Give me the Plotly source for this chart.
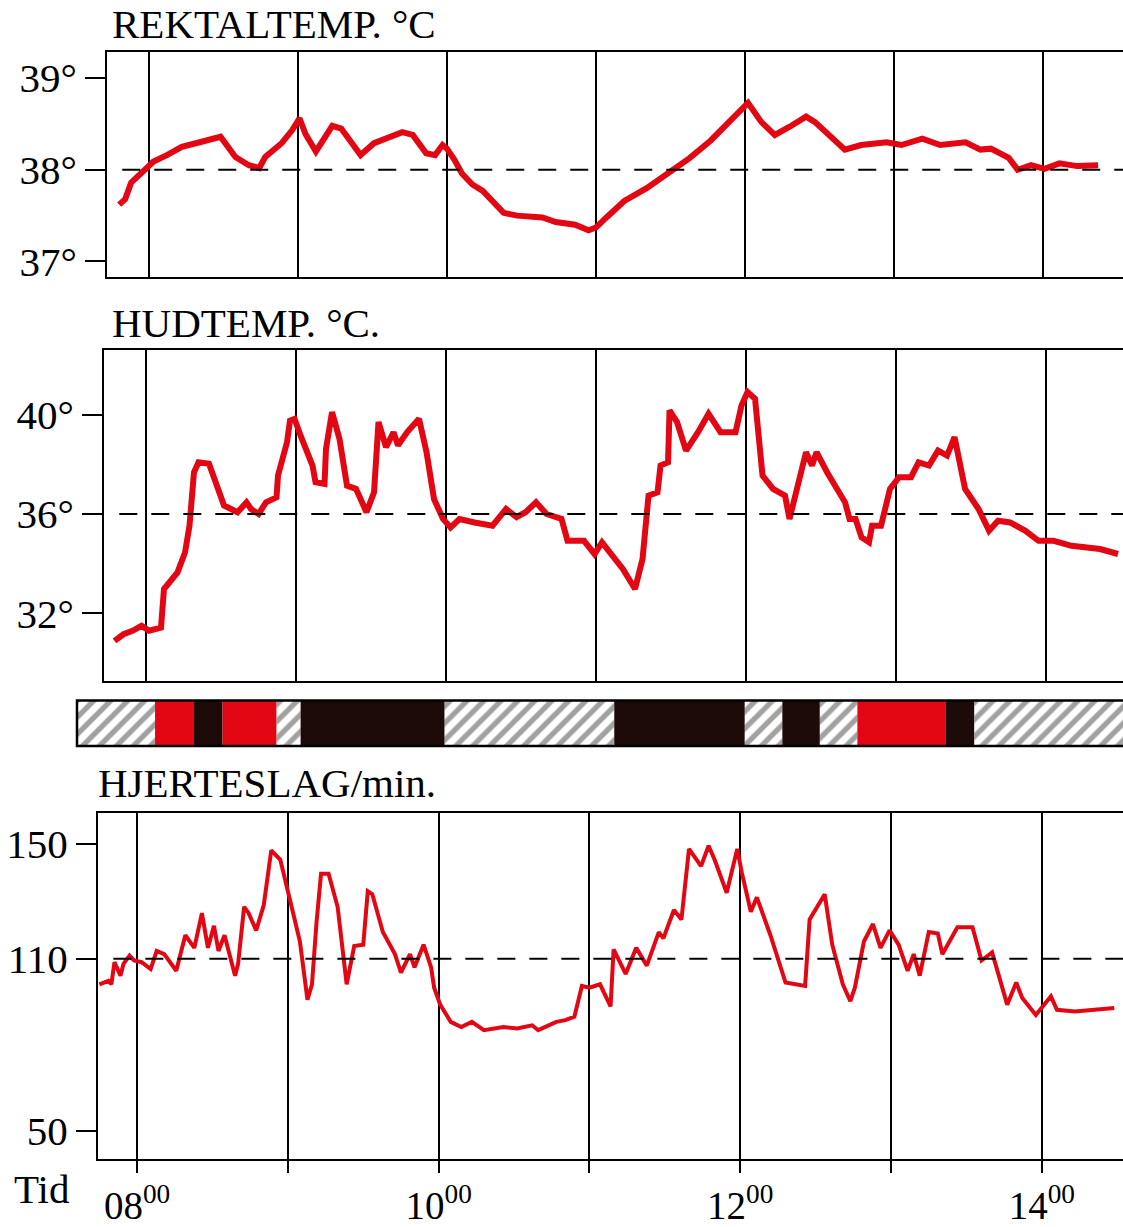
import plotly.graph_objects as go

# ---------------- data (time in decimal hours) ----------------
rektal_t = [7.80, 7.84, 7.88, 7.93, 8.00, 8.03, 8.12, 8.22, 8.34, 8.48, 8.58, 8.67, 8.74, 8.78, 8.89,
            8.96, 9.01, 9.05, 9.12, 9.23, 9.29, 9.39, 9.42, 9.51, 9.70, 9.77, 9.86, 9.92, 9.97, 10.00,
            10.05, 10.10, 10.17, 10.24, 10.31, 10.38, 10.47, 10.64, 10.73, 10.86, 10.95, 11.00, 11.07,
            11.19, 11.34, 11.48, 11.63, 11.77, 11.92, 12.02, 12.11, 12.20, 12.30, 12.41, 12.47, 12.59,
            12.67, 12.78, 12.95, 13.05, 13.19, 13.31, 13.48, 13.58, 13.65, 13.77, 13.83, 13.92, 14.01,
            14.11, 14.23, 14.37]
rektal_v = [37.62, 37.68, 37.86, 37.93, 38.04, 38.09, 38.16, 38.25, 38.30, 38.36, 38.14, 38.05, 38.02,
            38.14, 38.29, 38.43, 38.56, 38.39, 38.20, 38.48, 38.45, 38.22, 38.16, 38.29, 38.41, 38.38,
            38.18, 38.16, 38.27, 38.23, 38.11, 37.96, 37.84, 37.77, 37.64, 37.53, 37.50, 37.48, 37.43,
            37.40, 37.34, 37.37, 37.48, 37.66, 37.80, 37.95, 38.13, 38.32, 38.56, 38.73, 38.52, 38.38,
            38.47, 38.58, 38.52, 38.34, 38.22, 38.27, 38.30, 38.27, 38.34, 38.27, 38.30, 38.22, 38.23,
            38.13, 38.00, 38.05, 38.01, 38.07, 38.04, 38.05]

hud_t = [7.79, 7.85, 7.91, 7.97, 8.02, 8.10, 8.12, 8.21, 8.26, 8.29, 8.32, 8.35, 8.42, 8.47, 8.52,
         8.61, 8.67, 8.70, 8.75, 8.80, 8.87, 8.88, 8.94, 8.96, 8.99, 9.03, 9.11, 9.13, 9.19, 9.20,
         9.24, 9.29, 9.34, 9.40, 9.47, 9.52, 9.55, 9.60, 9.65, 9.68, 9.74, 9.82, 9.87, 9.92, 9.98,
         10.03, 10.09, 10.19, 10.31, 10.40, 10.47, 10.53, 10.60, 10.67, 10.77, 10.81, 10.92, 10.99,
         11.04, 11.18, 11.26, 11.31, 11.35, 11.41, 11.43, 11.48, 11.49, 11.54, 11.60, 11.68, 11.75,
         11.83, 11.93, 11.97, 12.01, 12.06, 12.11, 12.18, 12.26, 12.29, 12.35, 12.40, 12.44, 12.47,
         12.54, 12.66, 12.69, 12.73, 12.77, 12.82, 12.84, 12.90, 12.96, 13.02, 13.10, 13.15, 13.22,
         13.28, 13.34, 13.39, 13.46, 13.55, 13.62, 13.68, 13.76, 13.86, 13.95, 14.05, 14.17, 14.36,
         14.48]
hud_v = [30.89, 31.16, 31.30, 31.50, 31.30, 31.43, 32.98, 33.65, 34.45, 35.53, 37.68, 38.08, 38.02,
         37.14, 36.34, 36.07, 36.47, 36.20, 36.00, 36.47, 36.67, 37.55, 38.89, 39.76, 39.83, 39.16,
         37.95, 37.28, 37.21, 38.62, 40.10, 39.02, 37.14, 37.01, 36.07, 36.87, 39.70, 38.69, 39.29,
         38.76, 39.29, 39.83, 38.49, 36.60, 35.80, 35.46, 35.80, 35.66, 35.53, 36.20, 35.87, 36.07,
         36.47, 36.00, 35.80, 34.92, 34.92, 34.39, 34.86, 33.78, 32.98, 34.19, 36.74, 36.87, 37.95,
         38.08, 40.17, 39.70, 38.55, 39.29, 40.03, 39.29, 39.29, 40.37, 40.91, 40.64, 37.55, 37.01,
         36.74, 35.80, 37.41, 38.49, 37.95, 38.49, 37.68, 36.47, 35.80, 35.80, 35.06, 34.86, 35.53,
         35.53, 37.01, 37.48, 37.48, 38.08, 37.95, 38.55, 38.35, 39.09, 37.01, 36.20, 35.33, 35.73,
         35.66, 35.33, 34.92, 34.92, 34.72, 34.59, 34.39]

puls_t = [7.75, 7.81, 7.83, 7.85, 7.89, 7.91, 7.95, 7.98, 8.03, 8.09, 8.13, 8.18, 8.26, 8.32, 8.38,
          8.43, 8.47, 8.51, 8.54, 8.58, 8.65, 8.67, 8.71, 8.74, 8.79, 8.84, 8.89, 8.95, 9.02, 9.08,
          9.13, 9.16, 9.19, 9.22, 9.27, 9.33, 9.39, 9.42, 9.44, 9.50, 9.53, 9.56, 9.63, 9.71, 9.75,
          9.81, 9.84, 9.90, 9.95, 9.97, 10.01, 10.08, 10.15, 10.22, 10.30, 10.43, 10.52, 10.62, 10.66,
          10.78, 10.84, 10.90, 10.95, 11.00, 11.07, 11.14, 11.16, 11.24, 11.31, 11.38, 11.46, 11.49,
          11.53, 11.56, 11.61, 11.66, 11.74, 11.79, 11.83, 11.91, 11.98, 12.01, 12.07, 12.11, 12.20,
          12.24, 12.30, 12.43, 12.46, 12.56, 12.61, 12.68, 12.73, 12.76, 12.82, 12.88, 12.93, 12.99,
          13.05, 13.11, 13.15, 13.19, 13.25, 13.31, 13.34, 13.44, 13.54, 13.60, 13.67, 13.77, 13.83,
          13.87, 13.96, 14.06, 14.10, 14.22, 14.34, 14.48]
puls_v = [101.1, 102.3, 101.1, 108.8, 104.1, 108.2, 111.1, 109.4, 108.8, 106.4, 112.7, 111.6, 105.8,
          118.2, 113.8, 125.9, 113.8, 121.5, 112.7, 118.2, 104.1, 108.2, 128.1, 125.9, 119.9, 128.6,
          147.8, 144.5, 129.2, 116.0, 95.7, 101.1, 122.6, 139.6, 139.6, 128.1, 101.1, 109.4, 114.4,
          114.9, 133.5, 132.5, 119.3, 111.6, 105.2, 111.6, 107.0, 114.9, 107.0, 99.9, 94.0, 88.0,
          86.2, 88.0, 85.1, 86.2, 85.7, 86.8, 85.1, 88.0, 88.6, 89.8, 100.5, 99.9, 101.1, 93.4, 113.3,
          104.7, 113.8, 107.6, 119.3, 117.1, 122.6, 127.0, 123.7, 148.3, 142.3, 149.4, 144.5, 133.0,
          148.3, 140.1, 126.4, 131.4, 118.2, 111.6, 101.7, 100.5, 123.7, 132.5, 114.9, 101.1, 95.2,
          99.9, 116.0, 122.1, 113.8, 119.9, 114.9, 105.8, 111.6, 104.1, 119.3, 118.8, 111.6, 121.0,
          121.0, 109.4, 112.2, 94.0, 101.7, 96.3, 90.4, 96.9, 92.2, 91.6, 92.2, 92.8]

# activity bar segments
act_start = [7.54, 8.06, 8.32, 8.51, 8.87, 9.03, 9.99, 11.12, 11.99, 12.24, 12.49, 12.74, 13.33, 13.52]
act_end   = [8.06, 8.32, 8.51, 8.87, 9.03, 9.99, 11.12, 11.99, 12.24, 12.49, 12.74, 13.33, 13.52, 14.51]
act_kind  = ["hvile", "rød", "sort", "rød", "hvile", "sort", "hvile", "sort", "hvile", "sort",
             "hvile", "rød", "sort", "hvile"]

ref_lines = [38, 36, 110]
label_hours = [8, 10, 12, 14]
label_text = ["08<sup>00</sup>", "10<sup>00</sup>", "12<sup>00</sup>", "14<sup>00</sup>"]
odd_hours = [9, 11, 13]
all_hours = [8, 9, 10, 11, 12, 13, 14]

# ---------------- figure ----------------
W, H = 1123, 1227
RED = "#e30613"
DARK = "#1c0b09"
FONT = "Liberation Serif"
FS = 41

def ydom(top_px, bot_px):
    return [1 - bot_px / H, 1 - top_px / H]

fig = go.Figure()
fig.add_trace(go.Scatter(x=rektal_t, y=rektal_v, mode="lines", line=dict(color=RED, width=6),
                         xaxis="x", yaxis="y", showlegend=False, hoverinfo="skip"))
fig.add_trace(go.Scatter(x=hud_t, y=hud_v, mode="lines", line=dict(color=RED, width=6),
                         xaxis="x2", yaxis="y2", showlegend=False, hoverinfo="skip"))
fig.add_trace(go.Scatter(x=puls_t, y=puls_v, mode="lines", line=dict(color=RED, width=4),
                         xaxis="x3", yaxis="y3", showlegend=False, hoverinfo="skip"))

colors = {"hvile": "white", "rød": RED, "sort": DARK}
fig.add_trace(go.Bar(
    y=[0] * len(act_start), x=[e - s for s, e in zip(act_start, act_end)], base=act_start,
    orientation="h", width=1, xaxis="x4", yaxis="y4", showlegend=False, hoverinfo="skip",
    marker=dict(color=[colors[k] for k in act_kind], line=dict(width=0),
                pattern=dict(shape=["/" if k == "hvile" else "" for k in act_kind],
                             fgcolor="black", size=12, solidity=0.45)),
))

line_common = dict(showline=True, linecolor="black", linewidth=2, mirror=True, zeroline=False)
ytick_common = dict(showline=True, linecolor="black", linewidth=2, ticks="outside", ticklen=20,
                    tickwidth=2, tickcolor="black", showgrid=False, zeroline=False,
                    tickfont=dict(family=FONT, size=FS, color="black"))
grid_plain = dict(tickvals=all_hours, showgrid=True, gridcolor="black", gridwidth=2,
                  showticklabels=False, ticks="")

fig.update_layout(
    width=W, height=H, margin=dict(l=0, r=0, t=0, b=0),
    paper_bgcolor="white", plot_bgcolor="white", barmode="overlay", hovermode=False,
    xaxis=dict(domain=[107 / W, 1], range=[7.718, 14.537], anchor="y", **grid_plain, **line_common),
    yaxis=dict(domain=ydom(53, 280), range=[36.83, 39.28], anchor="x",
               tickvals=[37, 38, 39], ticktext=["37°", "38°", "39°"], **ytick_common),
    xaxis2=dict(domain=[104 / W, 1], range=[7.72, 14.513], anchor="y2", **grid_plain, **line_common),
    yaxis2=dict(domain=ydom(354, 688), range=[29.29, 42.59], anchor="x2",
                tickvals=[32, 36, 40], ticktext=["32°", "36°", "40°"], **ytick_common),
    xaxis3=dict(domain=[98 / W, 1], range=[7.741, 14.538], anchor="y3",
                tickvals=label_hours, ticktext=label_text, showgrid=True, gridcolor="black",
                gridwidth=2, ticks="outside", ticklen=12, tickwidth=2, tickcolor="black",
                tickfont=dict(family=FONT, size=39, color="black"),
                minor=dict(tickvals=odd_hours, ticks="outside", ticklen=12, tickwidth=2,
                           tickcolor="black", showgrid=True, gridcolor="black", gridwidth=2),
                **line_common),
    yaxis3=dict(domain=ydom(822, 1171), range=[40.34, 160.7], anchor="x3",
                tickvals=[50, 110, 150], **ytick_common),
    xaxis4=dict(domain=[77 / W, 1], range=[7.54, 14.51], anchor="y4", showticklabels=False,
                showgrid=False, zeroline=False, showline=False, ticks=""),
    yaxis4=dict(domain=ydom(708, 754), range=[-0.5, 0.5], anchor="x4", showticklabels=False,
                showgrid=False, zeroline=False, showline=False, ticks=""),
)

# dashed reference lines
for ax, yv in zip(["", "2", "3"], ref_lines):
    fig.add_shape(type="line", xref=f"x{ax} domain", yref=f"y{ax}", x0=0.015, x1=1, y0=yv, y1=yv,
                  line=dict(color="black", width=2, dash="18px,14px"), layer="above")

# outline of activity bar
fig.add_shape(type="rect", xref="x4 domain", yref="y4 domain", x0=0, x1=1.01, y0=0, y1=1,
              line=dict(color="black", width=2.5), layer="above")

titles = [("REKTALTEMP. °C", 110, 24), ("HUDTEMP. °C.", 110, 326), ("HJERTESLAG/min.", 96, 791)]
for txt, xpx, ypx in titles:
    fig.add_annotation(text=txt, xref="paper", yref="paper", x=xpx / W, y=1 - ypx / H,
                       xanchor="left", yanchor="middle", showarrow=False,
                       font=dict(family=FONT, size=FS, color="black"))
fig.add_annotation(text="Tid", xref="paper", yref="paper", x=12 / W, y=1 - 1202 / H,
                   xanchor="left", yanchor="middle", showarrow=False,
                   font=dict(family=FONT, size=FS, color="black"))

fig.write_html("out.html", config={"displayModeBar": False, "staticPlot": True},
               post_script="document.body.style.margin='0';")
